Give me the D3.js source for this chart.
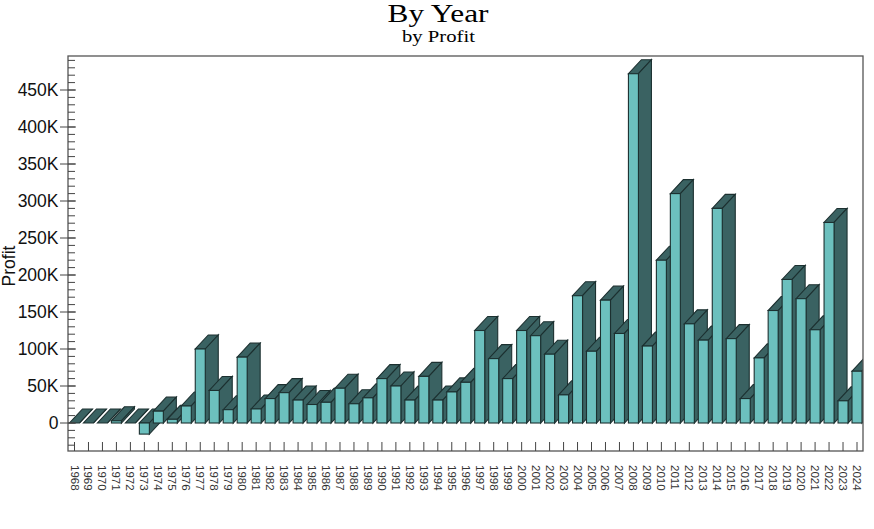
<!DOCTYPE html>
<html><head><meta charset="utf-8">
<script src="https://cdnjs.cloudflare.com/ajax/libs/d3/7.9.0/d3.min.js"></script>
<style>html,body{margin:0;padding:0;background:#fff}svg{display:block}</style>
</head><body><svg id="c" width="874" height="529"></svg>
<script>
const years = d3.range(1968, 2025);
const profitK = [0,0,0,3,0,-15,16,5,23,100,44,18,89,19,33,41,31,25,28,47,26,34,60,50,31,63,31,42,55,125,87,60,125,118,93,38,172,97,166,121,472,104,220,310,134,112,290,114,33,88,152,194,168,126,271,30,70];
const yMajor = [0,50,100,150,200,250,300,350,400,450];
const yMinor = d3.range(-30,500,10);

const svg = d3.select('#c');
const L=68,R=863,T=56,B=451;
const y = d3.scaleLinear().domain([0,450]).range([423,90]);
const x = d3.scalePoint().domain(years).range([74.5,857]);
const bw=10, dx=13, dy=14;
const front='#6cc0be', side='#3a6262', stroke='#1c3030';

svg.append('defs').append('clipPath').attr('id','pc').append('rect')
  .attr('x',L).attr('y',T).attr('width',R-L).attr('height',B-T);

const txtT = svg.append('g').attr('text-anchor','middle').attr('font-family','"Liberation Serif"').attr('fill','#000');
txtT.append('text').attr('x',438).attr('y',21.5).attr('font-size',25).attr('textLength',101).attr('lengthAdjust','spacingAndGlyphs').text('By Year');
txtT.append('text').attr('x',438.5).attr('y',42).attr('font-size',17.5).attr('textLength',73).attr('lengthAdjust','spacingAndGlyphs').text('by Profit');

const g = svg.append('g').attr('clip-path','url(#pc)');
const bars = g.selectAll('g').data(years.map((yr,i)=>({yr,v:profitK[i]}))).join('g');
const sw=1.1;
bars.each(function(d){
  const s=d3.select(this), x0=x(d.yr)-bw/2, x1=x0+bw;
  const y0=y(Math.max(d.v,0)), yb=y(Math.min(d.v,0));
  s.append('path').attr('d',d3.line()([[x0,y0],[x1,y0],[x1+dx,y0-dy],[x0+dx,y0-dy]])+'Z')
    .attr('fill',side).attr('stroke',stroke).attr('stroke-width',sw);
  s.append('path').attr('d',d3.line()([[x1,y0],[x1+dx,y0-dy],[x1+dx,yb-dy],[x1,yb]])+'Z')
    .attr('fill',side).attr('stroke',stroke).attr('stroke-width',sw);
  if(d.v!==0) s.append('rect').attr('x',x0).attr('y',y0).attr('width',bw).attr('height',yb-y0)
    .attr('fill',front).attr('stroke',stroke).attr('stroke-width',sw);
});

svg.append('rect').attr('x',L).attr('y',T).attr('width',R-L).attr('height',B-T)
  .attr('fill','none').attr('stroke','#555').attr('stroke-width',1.3);

const ga = svg.append('g').attr('stroke','#444').attr('stroke-width',1);
ga.selectAll('line.m').data(yMinor).join('line').attr('class','m')
  .attr('x1',L).attr('x2',75).attr('y1',d=>y(d)).attr('y2',d=>y(d));
ga.selectAll('line.M').data(yMajor).join('line').attr('class','M')
  .attr('x1',60).attr('x2',76).attr('y1',d=>y(d)).attr('y2',d=>y(d));
svg.append('g').attr('font-family','"Liberation Sans"').attr('font-size',17.5).attr('text-anchor','end').attr('fill','#111')
  .selectAll('text').data(yMajor).join('text')
  .attr('x',58.5).attr('y',d=>y(d)+6.2).text(d=>d===0?'0':d+'K');
svg.append('text').attr('transform','translate(15,266) rotate(-90)').attr('text-anchor','middle')
  .attr('font-family','"Liberation Sans"').attr('font-size',17.5).attr('fill','#111').text('Profit');

ga.selectAll('line.x').data(years).join('line').attr('class','x')
  .attr('x1',d=>x(d)).attr('x2',d=>x(d)).attr('y1',442).attr('y2',B);
svg.append('g').attr('font-family','"Liberation Sans"').attr('font-size',11.5).attr('fill','#333')
  .selectAll('text').data(years).join('text')
  .attr('transform',d=>`translate(${x(d)-4},465) rotate(90)`).text(d=>d);
</script></body></html>
